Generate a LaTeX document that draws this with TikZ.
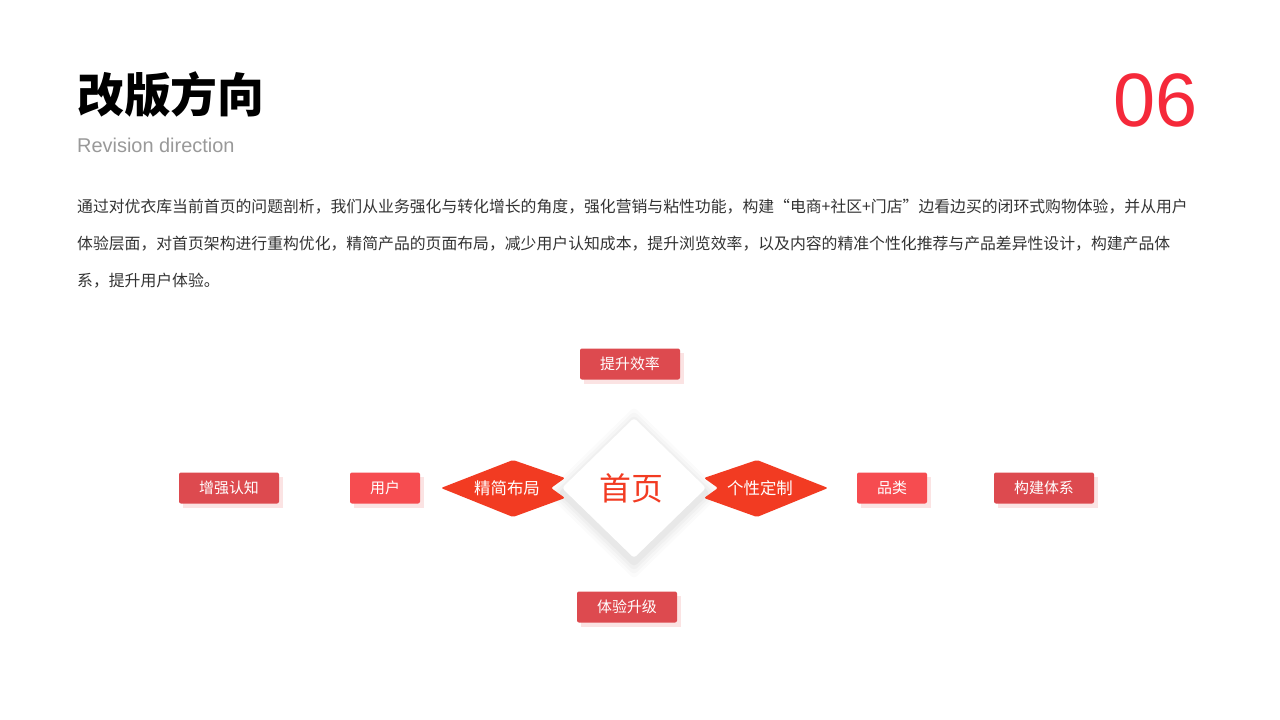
\documentclass[tikz,border=0pt]{standalone}
\usepackage{fontspec}
\setmainfont{Noto Sans CJK SC}
\newfontfamily\lat{Liberation Sans}
\definecolor{rA}{HTML}{DD4A4F}
\definecolor{rB}{HTML}{F64C50}
\definecolor{rC}{HTML}{F23B22}
\definecolor{rT}{HTML}{F5293A}
\definecolor{txt}{HTML}{333333}
\definecolor{sh}{HTML}{FBE3E3}
\tikzset{
 tag/.style={fill=#1, rounded corners=2pt, text=white, minimum height=31bp, inner sep=0pt, font=\fontsize{15}{15}\selectfont},
}
\begin{document}
\begin{tikzpicture}[x=1bp,y=-1bp]
\useasboundingbox (0,0) rectangle (1280,720);
\fill[white] (0,0) rectangle (1280,720);
\node[anchor=west,inner sep=0pt,font=\fontsize{47}{47}\selectfont\bfseries] (title) at (77,95) {改版方向};
\node[anchor=west,inner sep=0pt,text=gray!80,font=\lat\fontsize{20}{20}\selectfont] (sub) at (77,145) {Revision direction};
\node[anchor=east,inner sep=0pt,text=rT,font=\lat\fontsize{76}{76}\selectfont] (num) at (1198,100) {06};
\foreach \t [count=\i] in {{通过对优衣库当前首页的问题剖析，我们从业务强化与转化增长的角度，强化营销与粘性功能，构建“电商+社区+门店”边看边买的闭环式购物体验，并从用户},{体验层面，对首页架构进行重构优化，精简产品的页面布局，减少用户认知成本，提升浏览效率，以及内容的精准个性化推荐与产品差异性设计，构建产品体},{系，提升用户体验。}}
 \node[anchor=west,inner sep=0pt,text=txt,font=\fontsize{15.9}{15.9}\selectfont] (p\i) at (77,170+37*\i) {\t};
% diamond shadow
\foreach \k/\o in {16/0.015,12/0.02,8/0.025,4/0.03}
 \fill[black,opacity=\o,rounded corners=4pt] (634,418-\k+5) -- (706+\k,488+5) -- (634,558+\k+5) -- (562-\k,488+5) -- cycle;
% red arrows
\fill[rC,rounded corners=2pt] (441,488) -- (513,460) -- (565,478) -- (551,488) -- (565,498) -- (513,517) -- cycle;
\fill[rC,rounded corners=2pt] (828,488) -- (757,460) -- (704,478) -- (718,488) -- (704,498) -- (757,517) -- cycle;
\node[font=\fontsize{16.5}{16.5}\selectfont,text=white] (jj) at (507,488) {精简布局};
\node[font=\fontsize{16.5}{16.5}\selectfont,text=white] (gx) at (760,488) {个性定制};
% center diamond
\fill[white,rounded corners=3pt] (634,418) -- (706,488) -- (634,558) -- (562,488) -- cycle;
\node[text=rC,font=\fontsize{32}{32}\selectfont] (home) at (631,488) {首页};
% tag shadows
\foreach \x/\y/\w in {229/488/100,385/488/70,892/488/70,1044/488/100,630/364/100,627/607/100}
 \fill[sh] (\x-\w/2+4,\y-15.5+4) rectangle (\x+\w/2+4,\y+15.5+4);
% tags
\node[tag=rA,minimum width=100bp] (a) at (229,488) {增强认知};
\node[tag=rB,minimum width=70bp] (b) at (385,488) {用户};
\node[tag=rB,minimum width=70bp] (c) at (892,488) {品类};
\node[tag=rA,minimum width=100bp] (d) at (1044,488) {构建体系};
\node[tag=rA,minimum width=100bp] (e) at (630,364) {提升效率};
\node[tag=rA,minimum width=100bp] (f) at (627,607) {体验升级};
\end{tikzpicture}
\end{document}
